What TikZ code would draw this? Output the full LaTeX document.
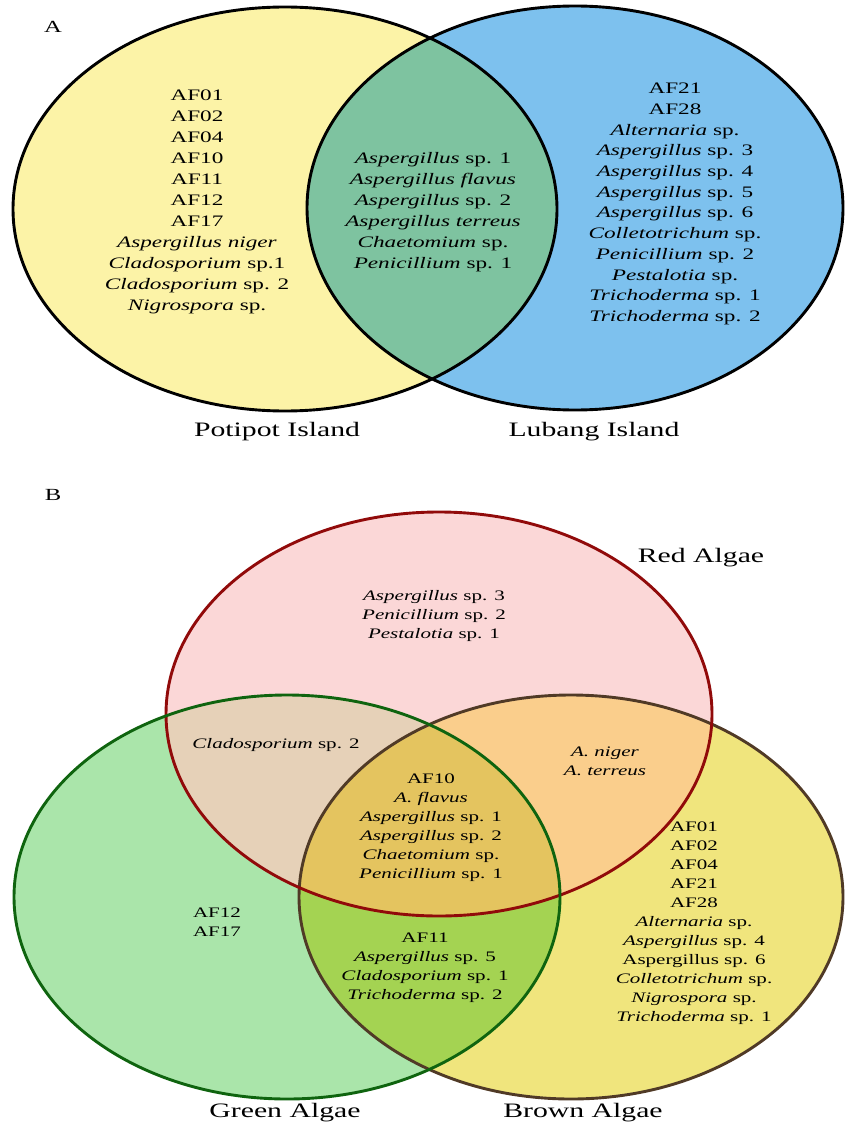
\documentclass[tikz,border=0pt]{standalone}
\usepackage{fontspec}
\setmainfont[FakeStretch=1.45]{Liberation Serif}
\definecolor{potiyellow}{RGB}{252, 243, 167}
\definecolor{lubangblue}{RGB}{125, 193, 238}
\definecolor{islandgreen}{RGB}{126, 195, 160}
\definecolor{redfill}{RGB}{251, 215, 215}
\definecolor{greenfill}{RGB}{170, 229, 170}
\definecolor{brownfill}{RGB}{240, 229, 125}
\definecolor{redgreen}{RGB}{230, 209, 184}
\definecolor{redbrown}{RGB}{250, 206, 140}
\definecolor{greenbrown}{RGB}{164, 211, 82}
\definecolor{allthree}{RGB}{228, 196, 95}
\definecolor{redline}{RGB}{145, 10, 10}
\definecolor{greenline}{RGB}{15, 100, 15}
\definecolor{brownline}{RGB}{80, 58, 38}

\begin{document}
\begin{tikzpicture}[x=1pt, y=-1pt,
    venn/.style={line width=2.9pt},
    biglist/.style={align=center, inner sep=0pt, font=\fontsize{16}{21}\selectfont},
    smalllist/.style={align=center, inner sep=0pt, font=\fontsize{14.5}{19}\selectfont},
    setname/.style={inner sep=0pt, font=\fontsize{20.5}{22}\selectfont},
    panelletter/.style={inner sep=0pt, font=\fontsize{17}{17}\selectfont}]
    \useasboundingbox (0,0) rectangle (844,1126);
    \fill[white] (0,0) rectangle (844,1126);

    % Panel A
    \coordinate (poti) at (285,209);
    \coordinate (lubang) at (575,208);
    \def\potipot{(poti) ellipse [x radius=272pt, y radius=202pt]}
    \def\lubangset{(lubang) ellipse [x radius=268pt, y radius=202pt]}
    \fill[potiyellow] \potipot;
    \fill[lubangblue] \lubangset;
    \begin{scope}
        \clip \potipot;
        \fill[islandgreen] \lubangset;
    \end{scope}
    \draw[venn] \potipot;
    \draw[venn] \lubangset;
    \node[panelletter] (labela) at (53,27) {A};

    \node[biglist] (potionly) at (197,202) {AF01\\AF02\\AF04\\AF10\\AF11\\AF12\\AF17\\
        \textit{Aspergillus niger}\\\textit{Cladosporium} sp.1\\\textit{Cladosporium} sp. 2\\\textit{Nigrospora} sp.};
    \node[biglist] (bothisl) at (433,212) {\textit{Aspergillus} sp. 1\\\textit{Aspergillus flavus}\\
        \textit{Aspergillus} sp. 2\\\textit{Aspergillus terreus}\\\textit{Chaetomium} sp.\\\textit{Penicillium} sp. 1};
    \node[biglist, font=\fontsize{16}{20.7}\selectfont] (lubangonly) at (675,204) {AF21\\AF28\\
        \textit{Alternaria} sp.\\\textit{Aspergillus} sp. 3\\\textit{Aspergillus} sp. 4\\\textit{Aspergillus} sp. 5\\
        \textit{Aspergillus} sp. 6\\\textit{Colletotrichum} sp.\\\textit{Penicillium} sp. 2\\\textit{Pestalotia} sp.\\
        \textit{Trichoderma} sp. 1\\\textit{Trichoderma} sp. 2};
    \node[setname] (potiname) at (277,432) {Potipot Island};
    \node[setname] (lubangname) at (594,432) {Lubang Island};

    % Panel B
    \coordinate (red) at (439,714);
    \coordinate (green) at (287,897);
    \coordinate (brown) at (571,897);
    \def\redset{(red) ellipse [x radius=273pt, y radius=202pt]}
    \def\greenset{(green) ellipse [x radius=273pt, y radius=202pt]}
    \def\brownset{(brown) ellipse [x radius=272pt, y radius=202pt]}
    \fill[redfill] \redset;
    \fill[greenfill] \greenset;
    \fill[brownfill] \brownset;
    \begin{scope}
        \clip \redset;
        \fill[redgreen] \greenset;
        \fill[redbrown] \brownset;
    \end{scope}
    \begin{scope}
        \clip \greenset;
        \fill[greenbrown] \brownset;
        \clip \brownset;
        \fill[allthree] \redset;
    \end{scope}
    \draw[venn, brownline] \brownset;
    \draw[venn, redline] \redset;
    \draw[venn, greenline] \greenset;
    \node[panelletter] (labelb) at (53,495) {B};

    \node[smalllist] (redonly) at (434,616) {\textit{Aspergillus} sp. 3\\\textit{Penicillium} sp. 2\\\textit{Pestalotia} sp. 1};
    \node[smalllist] (redgr) at (276,745) {\textit{Cladosporium} sp. 2};
    \node[smalllist] (redbr) at (605,761) {\textit{A. niger}\\\textit{A. terreus}};
    \node[smalllist] (algaeall) at (431,828) {AF10\\\textit{A. flavus}\\\textit{Aspergillus} sp. 1\\
        \textit{Aspergillus} sp. 2\\\textit{Chaetomium} sp.\\\textit{Penicillium} sp. 1};
    \node[smalllist] (greenonly) at (217,922) {AF12\\AF17};
    \node[smalllist] (grbr) at (425,968) {AF11\\\textit{Aspergillus} sp. 5\\\textit{Cladosporium} sp. 1\\\textit{Trichoderma} sp. 2};
    \node[smalllist] (brownonly) at (694,923) {AF01\\AF02\\AF04\\AF21\\AF28\\\textit{Alternaria} sp.\\
        \textit{Aspergillus} sp. 4\\Aspergillus sp. 6\\\textit{Colletotrichum} sp.\\\textit{Nigrospora} sp.\\\textit{Trichoderma} sp. 1};
    \node[setname] (redname) at (701,558) {Red Algae};
    \node[setname] (greenname) at (285,1113) {Green Algae};
    \node[setname] (brownname) at (583,1113) {Brown Algae};
\end{tikzpicture}
\end{document}
